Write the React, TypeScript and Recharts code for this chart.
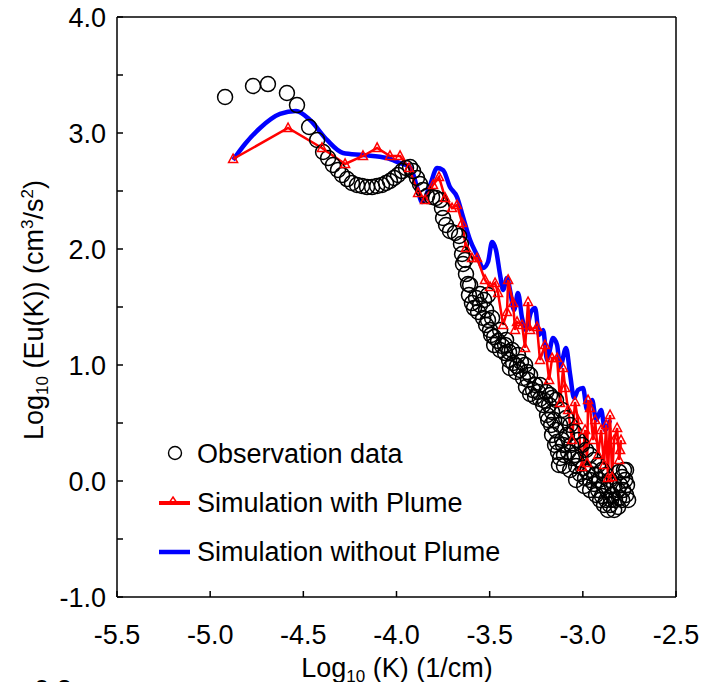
import React from 'react';
import { ComposedChart, Line, Scatter, XAxis, YAxis, ReferenceLine } from 'recharts';

// ---- data (log10 K, log10 Eu(K)) ----
const obsLogK = [-4.920,-4.770,-4.690,-4.588,-4.534,-4.469,-4.426,-4.394,-4.367,-4.341,
  -4.314,-4.292,-4.265,-4.239,-4.212,-4.185,-4.158,-4.131,-4.104,-4.078,
  -4.056,-4.035,-4.013,-3.992,-3.970,-3.949,-3.927,-3.911,-3.890,-3.874,
  -3.858,-3.836,-3.809,-3.788,-3.766,-3.756,-3.750,-3.734,-3.713,-3.686,
  -3.664,-3.654,-3.648,-3.643,-3.627,-3.616,-3.611,-3.595,-3.573,-3.552,
  -3.530,-3.519,-3.509,-3.498,-3.476,-3.455,-3.433,-3.417,-3.396,-3.374,
  -3.353,-3.337,-3.321,-3.305,-3.283,-3.256,-3.230,-3.203,-3.181,-3.165,
  -3.154,-3.144,-3.138,-3.133,-3.122,-3.101,-3.079,-3.058,-3.036,-3.015,
  -2.988,-2.961,-2.940,-2.918,-2.897,-2.875,-2.854,-2.832,-2.811,-2.789,
  -2.768,-2.757,-2.773,-2.779,-2.800];
const obsLogE = [3.310,3.405,3.422,3.345,3.241,3.052,2.940,2.836,2.784,2.724,
  2.681,2.638,2.603,2.569,2.552,2.543,2.534,2.534,2.543,2.552,
  2.569,2.586,2.612,2.638,2.672,2.698,2.707,2.672,2.612,2.560,
  2.509,2.457,2.448,2.440,2.422,2.353,2.267,2.207,2.155,2.138,
  2.112,2.043,1.957,1.871,1.784,1.698,1.603,1.534,1.578,1.612,
  1.560,1.474,1.388,1.302,1.241,1.207,1.164,1.103,1.043,1.017,
  0.991,0.957,0.888,0.810,0.750,0.724,0.707,0.690,0.655,0.595,
  0.526,0.440,0.336,0.250,0.198,0.224,0.250,0.198,0.129,0.060,
  0.026,0.009,-0.026,-0.078,-0.129,-0.164,-0.207,-0.250,-0.224,-0.164,
  -0.121,-0.164,0.009,0.095,-0.034];
const obsBandLogK = [-3.509,-3.487,-3.444,-3.412,-3.380,-3.348,-3.310,-3.283,-3.256,-3.230,
  -3.197,-3.176,-3.144,-3.111,-3.090,-3.068,-3.047,-3.026,-3.004,-2.983,
  -2.961,-2.940,-2.918,-2.897,-2.875,-2.854,-2.832,-2.811,-2.789,-2.768,
  -2.805,-2.843,-2.865,-2.886,-2.907,-2.929,-2.961,-2.993,-3.036,-3.068,
  -3.101,-3.111,-3.122,-3.165,-3.294,-3.358,-3.391,-3.444,-3.476,-3.535,
  -3.562,-3.584,-3.186,-3.165,
  -3.213,-3.192,-3.170,-3.149,-3.128,-3.106,-3.085,-3.063,-3.042,-3.020,
  -2.999,-2.977,-2.956,-2.934,-2.913,-2.891,-2.870,-2.848,-2.827,-2.805,
  -2.784,-2.763,-3.417,-3.396,-3.332,-3.299,-3.267,-3.240,-3.552,-3.519,
  -3.492,-3.632,-3.605];
const obsBandLogE = [1.603,1.405,1.302,1.216,1.129,1.086,1.000,0.914,0.828,0.828,
  0.767,0.741,0.698,0.612,0.543,0.483,0.422,0.353,0.310,0.267,
  0.224,0.181,0.138,0.095,0.052,0.009,-0.034,-0.078,0.034,0.095,
  0.078,-0.121,-0.250,-0.207,-0.164,-0.121,-0.078,-0.043,0.009,0.095,
  0.129,0.353,0.483,0.716,0.871,0.940,0.974,1.129,1.172,1.405,
  1.457,1.491,0.526,0.397,
  0.655,0.569,0.483,0.310,0.138,0.310,0.397,0.310,0.224,0.181,
  0.112,0.078,0.095,0.052,0.009,-0.034,-0.078,-0.164,-0.164,-0.147,
  -0.078,-0.034,1.172,1.112,1.026,0.940,0.784,0.767,1.517,1.345,
  1.259,1.905,1.690];

const plumeLogK = [-4.877,-4.582,-4.400,-4.276,-4.180,-4.104,-4.035,-3.981,-3.933,-3.884,
  -3.847,-3.804,-3.772,-3.739,-3.702,-3.675,-3.648,-3.627,-3.595,-3.568,
  -3.525,-3.498,-3.471,-3.455,-3.428,-3.407,-3.401,-3.374,-3.364,-3.353,
  -3.326,-3.310,-3.294,-3.283,-3.246,-3.230,-3.203,-3.181,-3.165,-3.138,
  -3.122,-3.106,-3.095,-3.079,-3.058,-3.042,-3.026,-3.004,-2.988,-2.977,
  -2.972,-2.961,-2.945,-2.934,-2.918,-2.902,-2.886,-2.875,-2.865,-2.854,
  -2.843,-2.832,-2.816,-2.805,-2.800,-2.795];
const plumeLogE = [2.776,3.043,2.871,2.733,2.802,2.871,2.802,2.802,2.698,2.483,
  2.422,2.552,2.621,2.440,2.353,2.379,2.224,2.009,1.922,1.922,
  1.733,1.672,1.707,1.621,1.345,1.457,1.733,1.534,1.302,1.371,
  1.345,1.147,1.543,1.302,1.328,1.043,1.172,0.871,1.060,1.060,
  0.672,0.974,0.802,0.612,0.353,0.681,0.526,0.121,0.440,0.155,
  0.698,0.629,0.353,0.526,0.224,0.440,0.138,0.483,0.026,0.569,
  0.034,0.353,0.457,0.181,0.267,0.353];

const noPlumeLogK = [-4.877,-4.813,-4.732,-4.625,-4.539,-4.464,-4.373,-4.287,-4.180,-4.051,
  -3.981,-3.927,-3.890,-3.863,-3.820,-3.782,-3.750,-3.713,-3.675,-3.643,
  -3.605,-3.568,-3.535,-3.509,-3.487,-3.466,-3.444,-3.428,-3.407,-3.391,
  -3.369,-3.348,-3.326,-3.305,-3.278,-3.256,-3.235,-3.213,-3.192,-3.160,
  -3.138,-3.122,-3.090,-3.068,-3.047,-3.026,-2.999,-2.977,-2.950,-2.929,
  -2.902,-2.881,-2.854];
const noPlumeLogE = [2.767,2.905,3.043,3.164,3.190,3.112,2.940,2.828,2.810,2.784,
  2.741,2.707,2.534,2.405,2.552,2.698,2.681,2.534,2.448,2.276,
  2.078,1.948,1.836,1.888,2.060,1.991,1.776,1.647,1.750,1.647,
  1.474,1.621,1.405,1.302,1.457,1.491,1.259,1.302,1.043,1.233,
  1.172,0.983,1.147,0.914,0.716,0.784,0.802,0.612,0.698,0.526,
  0.612,0.440,0.526];

const xTicks = [-5.5, -5.0, -4.5, -4.0, -3.5, -3.0, -2.5];
const yTicks = [-1, -0.5, 0, 0.5, 1, 1.5, 2, 2.5, 3, 3.5, 4];

const legendLabels = ['Observation data', 'Simulation with Plume', 'Simulation without Plume'];

const zip = (xs: number[], ys: number[]) => xs.map((x, i) => ({ x, y: ys[i] }));
const obsData = [...zip(obsLogK, obsLogE), ...zip(obsBandLogK, obsBandLogE)];
const plumeData = zip(plumeLogK, plumeLogE);
const noPlumeData = zip(noPlumeLogK, noPlumeLogE);

const FONT = '"Liberation Sans", Arial, sans-serif';
const FS = 27;
const W = 711;
const H = 690;

const XTick = (props: any) => {
  const { x, y, payload } = props;
  return (
    <g>
      <line x1={x} y1={y} x2={x} y2={y - 6} stroke="#000" strokeWidth={1.5} />
      <text x={x} y={y + 47} textAnchor="middle" fontSize={FS} fontFamily={FONT} fill="#000">
        {Number(payload.value).toFixed(1)}
      </text>
    </g>
  );
};

const YTick = (props: any) => {
  const { x, y, payload } = props;
  const v = Number(payload.value);
  const major = Math.abs(v - Math.round(v)) < 1e-6;
  return (
    <g>
      <line x1={x} y1={y} x2={x + 6} y2={y} stroke="#000" strokeWidth={1.5} />
      {major && (
        <text x={x - 11} y={y + 9.5} textAnchor="end" fontSize={FS} fontFamily={FONT} fill="#000">
          {v.toFixed(1)}
        </text>
      )}
    </g>
  );
};

const OpenCircle = (props: any) => {
  const { cx, cy } = props;
  if (cx == null || cy == null) return null;
  return <circle cx={cx} cy={cy} r={7.5} fill="none" stroke="#000" strokeWidth={1.5} />;
};

const TriangleDot = (props: any) => {
  const { cx, cy, index } = props;
  if (cx == null || cy == null) return <g key={`t-${index}`} />;
  return (
    <path
      key={`t-${index}`}
      d={`M${cx},${cy - 5}L${cx + 4.5},${cy + 3.5}L${cx - 4.5},${cy + 3.5}Z`}
      fill="none"
      stroke="#ff0000"
      strokeWidth={1.5}
    />
  );
};

export default function App() {
  return (
    <div style={{ position: 'relative', width: W, height: H, margin: -8 }}>
      <ComposedChart width={W} height={H} margin={{ top: 17, right: 35, left: 47, bottom: 33 }}>
        <XAxis
          type="number"
          dataKey="x"
          domain={[-5.5, -2.5]}
          ticks={xTicks}
          interval={0}
          allowDataOverflow
          tickSize={0}
          tickMargin={0}
          tickLine={false}
          tick={<XTick />}
          axisLine={{ stroke: '#000', strokeWidth: 1.5 }}
          height={60}
        />
        <YAxis
          type="number"
          dataKey="y"
          domain={[-1, 4]}
          ticks={yTicks}
          interval={0}
          allowDataOverflow
          tickSize={0}
          tickMargin={0}
          tickLine={false}
          tick={<YTick />}
          axisLine={{ stroke: '#000', strokeWidth: 1.5 }}
          width={70}
        />
        <ReferenceLine y={4} stroke="#000" strokeWidth={1.5} />
        <ReferenceLine x={-2.5} stroke="#000" strokeWidth={1.5} />
        <Line
          data={noPlumeData}
          dataKey="y"
          type="monotone"
          stroke="#0000ff"
          strokeWidth={4.5}
          dot={false}
          activeDot={false}
          isAnimationActive={false}
        />
        <Scatter data={obsData} dataKey="y" shape={<OpenCircle />} isAnimationActive={false} />
        <Line
          data={plumeData}
          dataKey="y"
          type="linear"
          stroke="#ff0000"
          strokeWidth={2.5}
          dot={TriangleDot}
          activeDot={false}
          isAnimationActive={false}
        />
      </ComposedChart>
      <svg
        width={W}
        height={H}
        style={{ position: 'absolute', left: 0, top: 0, pointerEvents: 'none' }}
        fontFamily={FONT}
      >
        {/* y axis title */}
        <text transform="translate(43,310) rotate(-90)" textAnchor="middle" fontSize={FS} fill="#000">
          Log<tspan fontSize={17} dy={5}>10</tspan>
          <tspan dy={-5}> (Eu(K)) (cm</tspan>
          <tspan fontSize={17} dy={-10}>3</tspan>
          <tspan dy={10}>/s</tspan>
          <tspan fontSize={17} dy={-10}>2</tspan>
          <tspan dy={10}>)</tspan>
        </text>
        {/* x axis title */}
        <text x={397} y={677} textAnchor="middle" fontSize={FS} fill="#000">
          Log<tspan fontSize={17} dy={5}>10</tspan>
          <tspan dy={-5}> (K) (1/cm)</tspan>
        </text>
        {/* legend */}
        <circle cx={175} cy={453} r={6.5} fill="none" stroke="#000" strokeWidth={1.4} />
        <text x={197} y={463} fontSize={FS} fill="#000">{legendLabels[0]}</text>
        <line x1={159} y1={503} x2={190} y2={503} stroke="#ff0000" strokeWidth={4} />
        <path d="M173,497L177,503L169,503Z" fill="none" stroke="#ff0000" strokeWidth={1.5} />
        <text x={197} y={512} fontSize={FS} fill="#000">{legendLabels[1]}</text>
        <line x1={159} y1={552} x2={190} y2={552} stroke="#0000ff" strokeWidth={4.5} />
        <text x={197} y={561} fontSize={FS} fill="#000">{legendLabels[2]}</text>
        {/* top of next panel's label, cut off by the page edge as in the source image */}
        <text x={53} y={699} textAnchor="middle" fontSize={FS} fill="#000">0.2</text>
      </svg>
    </div>
  );
}
